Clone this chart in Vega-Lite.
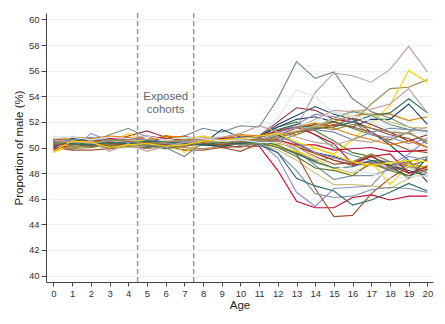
{
"$schema":"https://vega.github.io/schema/vega-lite/v6.json",
"width":387,"height":269,
"autosize":{"type":"none"},
"padding":{"left":46,"top":13,"right":12,"bottom":42},
"config":{"view":{"stroke":null},"font":"Liberation Sans",
 "axis":{"labelOverlap":false,"labelFlush":false,"labelFontSize":9.5,"labelColor":"#333","titleFontSize":11.5,"titleFontWeight":"normal","titleColor":"#222","tickColor":"#444","domainColor":"#444","labelPadding":2},
 "axisX":{"grid":false,"tickSize":4,"titlePadding":2},
 "axisY":{"grid":true,"gridColor":"#eaf2f3","gridWidth":1,"tickSize":5,"titlePadding":4}},
"datasets":{"d":[
{"s":"s01","a":0,"v":49.7},{"s":"s01","a":1,"v":50.6},{"s":"s01","a":2,"v":50.4},{"s":"s01","a":3,"v":50.2},{"s":"s01","a":4,"v":50.1},{"s":"s01","a":5,"v":50.0},{"s":"s01","a":6,"v":50.3},{"s":"s01","a":7,"v":50.1},{"s":"s01","a":8,"v":50.4},{"s":"s01","a":9,"v":50.5},{"s":"s01","a":10,"v":50.4},{"s":"s01","a":11,"v":50.8},{"s":"s01","a":12,"v":51.8},{"s":"s01","a":13,"v":52.5},{"s":"s01","a":14,"v":53.2},{"s":"s01","a":15,"v":52.6},{"s":"s01","a":16,"v":52.2},{"s":"s01","a":17,"v":51.2},{"s":"s01","a":18,"v":50.2},{"s":"s01","a":19,"v":49.0},{"s":"s01","a":20,"v":47.3},
{"s":"s02","a":0,"v":50.4},{"s":"s02","a":1,"v":50.3},{"s":"s02","a":2,"v":50.5},{"s":"s02","a":3,"v":50.6},{"s":"s02","a":4,"v":50.9},{"s":"s02","a":5,"v":51.3},{"s":"s02","a":6,"v":50.8},{"s":"s02","a":7,"v":50.6},{"s":"s02","a":8,"v":50.3},{"s":"s02","a":9,"v":50.5},{"s":"s02","a":10,"v":50.6},{"s":"s02","a":11,"v":50.9},{"s":"s02","a":12,"v":52.0},{"s":"s02","a":13,"v":53.1},{"s":"s02","a":14,"v":52.9},{"s":"s02","a":15,"v":52.2},{"s":"s02","a":16,"v":52.0},{"s":"s02","a":17,"v":51.5},{"s":"s02","a":18,"v":51.0},{"s":"s02","a":19,"v":50.7},{"s":"s02","a":20,"v":50.0},
{"s":"s03","a":0,"v":50.5},{"s":"s03","a":1,"v":50.2},{"s":"s03","a":2,"v":50.0},{"s":"s03","a":3,"v":50.3},{"s":"s03","a":4,"v":50.6},{"s":"s03","a":5,"v":50.4},{"s":"s03","a":6,"v":50.9},{"s":"s03","a":7,"v":50.5},{"s":"s03","a":8,"v":50.2},{"s":"s03","a":9,"v":50.4},{"s":"s03","a":10,"v":50.3},{"s":"s03","a":11,"v":50.8},{"s":"s03","a":12,"v":51.6},{"s":"s03","a":13,"v":52.0},{"s":"s03","a":14,"v":51.3},{"s":"s03","a":15,"v":50.5},{"s":"s03","a":16,"v":49.6},{"s":"s03","a":17,"v":49.3},{"s":"s03","a":18,"v":48.6},{"s":"s03","a":19,"v":48.9},{"s":"s03","a":20,"v":49.3},
{"s":"s04","a":0,"v":50.2},{"s":"s04","a":1,"v":50.4},{"s":"s04","a":2,"v":50.7},{"s":"s04","a":3,"v":50.5},{"s":"s04","a":4,"v":50.6},{"s":"s04","a":5,"v":50.5},{"s":"s04","a":6,"v":50.9},{"s":"s04","a":7,"v":50.8},{"s":"s04","a":8,"v":50.7},{"s":"s04","a":9,"v":50.6},{"s":"s04","a":10,"v":50.9},{"s":"s04","a":11,"v":50.8},{"s":"s04","a":12,"v":51.2},{"s":"s04","a":13,"v":51.0},{"s":"s04","a":14,"v":51.5},{"s":"s04","a":15,"v":52.0},{"s":"s04","a":16,"v":52.5},{"s":"s04","a":17,"v":52.6},{"s":"s04","a":18,"v":52.6},{"s":"s04","a":19,"v":52.1},{"s":"s04","a":20,"v":52.4},
{"s":"s05","a":0,"v":50.6},{"s":"s05","a":1,"v":50.5},{"s":"s05","a":2,"v":50.4},{"s":"s05","a":3,"v":51.0},{"s":"s05","a":4,"v":51.5},{"s":"s05","a":5,"v":50.8},{"s":"s05","a":6,"v":50.6},{"s":"s05","a":7,"v":50.9},{"s":"s05","a":8,"v":51.5},{"s":"s05","a":9,"v":51.2},{"s":"s05","a":10,"v":51.7},{"s":"s05","a":11,"v":51.6},{"s":"s05","a":12,"v":53.8},{"s":"s05","a":13,"v":56.7},{"s":"s05","a":14,"v":55.4},{"s":"s05","a":15,"v":55.9},{"s":"s05","a":16,"v":53.8},{"s":"s05","a":17,"v":52.8},{"s":"s05","a":18,"v":52.3},{"s":"s05","a":19,"v":51.6},{"s":"s05","a":20,"v":51.2},
{"s":"s06","a":0,"v":49.8},{"s":"s06","a":1,"v":50.1},{"s":"s06","a":2,"v":50.3},{"s":"s06","a":3,"v":49.9},{"s":"s06","a":4,"v":50.5},{"s":"s06","a":5,"v":50.8},{"s":"s06","a":6,"v":50.4},{"s":"s06","a":7,"v":50.2},{"s":"s06","a":8,"v":50.3},{"s":"s06","a":9,"v":50.0},{"s":"s06","a":10,"v":50.1},{"s":"s06","a":11,"v":50.1},{"s":"s06","a":12,"v":48.2},{"s":"s06","a":13,"v":45.8},{"s":"s06","a":14,"v":45.3},{"s":"s06","a":15,"v":45.3},{"s":"s06","a":16,"v":46.1},{"s":"s06","a":17,"v":46.3},{"s":"s06","a":18,"v":45.9},{"s":"s06","a":19,"v":46.2},{"s":"s06","a":20,"v":46.2},
{"s":"s07","a":0,"v":50.3},{"s":"s07","a":1,"v":49.8},{"s":"s07","a":2,"v":51.1},{"s":"s07","a":3,"v":50.5},{"s":"s07","a":4,"v":50.2},{"s":"s07","a":5,"v":50.4},{"s":"s07","a":6,"v":49.9},{"s":"s07","a":7,"v":50.3},{"s":"s07","a":8,"v":50.2},{"s":"s07","a":9,"v":50.4},{"s":"s07","a":10,"v":50.5},{"s":"s07","a":11,"v":50.4},{"s":"s07","a":12,"v":49.2},{"s":"s07","a":13,"v":46.5},{"s":"s07","a":14,"v":45.4},{"s":"s07","a":15,"v":46.8},{"s":"s07","a":16,"v":46.9},{"s":"s07","a":17,"v":47.0},{"s":"s07","a":18,"v":48.6},{"s":"s07","a":19,"v":49.5},{"s":"s07","a":20,"v":50.6},
{"s":"s08","a":0,"v":50.1},{"s":"s08","a":1,"v":50.0},{"s":"s08","a":2,"v":50.2},{"s":"s08","a":3,"v":49.9},{"s":"s08","a":4,"v":50.1},{"s":"s08","a":5,"v":50.3},{"s":"s08","a":6,"v":50.0},{"s":"s08","a":7,"v":49.8},{"s":"s08","a":8,"v":50.2},{"s":"s08","a":9,"v":50.1},{"s":"s08","a":10,"v":50.4},{"s":"s08","a":11,"v":50.3},{"s":"s08","a":12,"v":49.8},{"s":"s08","a":13,"v":49.0},{"s":"s08","a":14,"v":48.0},{"s":"s08","a":15,"v":47.1},{"s":"s08","a":16,"v":47.1},{"s":"s08","a":17,"v":47.0},{"s":"s08","a":18,"v":46.8},{"s":"s08","a":19,"v":47.6},{"s":"s08","a":20,"v":48.0},
{"s":"s09","a":0,"v":50.0},{"s":"s09","a":1,"v":49.8},{"s":"s09","a":2,"v":49.8},{"s":"s09","a":3,"v":49.9},{"s":"s09","a":4,"v":50.1},{"s":"s09","a":5,"v":50.0},{"s":"s09","a":6,"v":50.2},{"s":"s09","a":7,"v":49.8},{"s":"s09","a":8,"v":49.8},{"s":"s09","a":9,"v":50.0},{"s":"s09","a":10,"v":49.7},{"s":"s09","a":11,"v":50.3},{"s":"s09","a":12,"v":50.1},{"s":"s09","a":13,"v":49.5},{"s":"s09","a":14,"v":46.8},{"s":"s09","a":15,"v":44.6},{"s":"s09","a":16,"v":44.7},{"s":"s09","a":17,"v":46.4},{"s":"s09","a":18,"v":47.6},{"s":"s09","a":19,"v":48.5},{"s":"s09","a":20,"v":48.3},
{"s":"s10","a":0,"v":50.7},{"s":"s10","a":1,"v":50.6},{"s":"s10","a":2,"v":50.3},{"s":"s10","a":3,"v":50.5},{"s":"s10","a":4,"v":50.4},{"s":"s10","a":5,"v":50.2},{"s":"s10","a":6,"v":50.5},{"s":"s10","a":7,"v":50.3},{"s":"s10","a":8,"v":50.6},{"s":"s10","a":9,"v":50.4},{"s":"s10","a":10,"v":50.2},{"s":"s10","a":11,"v":50.4},{"s":"s10","a":12,"v":49.6},{"s":"s10","a":13,"v":48.2},{"s":"s10","a":14,"v":46.4},{"s":"s10","a":15,"v":46.1},{"s":"s10","a":16,"v":46.2},{"s":"s10","a":17,"v":46.7},{"s":"s10","a":18,"v":46.9},{"s":"s10","a":19,"v":46.8},{"s":"s10","a":20,"v":46.5},
{"s":"s11","a":0,"v":50.2},{"s":"s11","a":1,"v":50.4},{"s":"s11","a":2,"v":50.1},{"s":"s11","a":3,"v":50.2},{"s":"s11","a":4,"v":50.6},{"s":"s11","a":5,"v":50.3},{"s":"s11","a":6,"v":50.5},{"s":"s11","a":7,"v":50.4},{"s":"s11","a":8,"v":50.2},{"s":"s11","a":9,"v":50.1},{"s":"s11","a":10,"v":50.3},{"s":"s11","a":11,"v":50.2},{"s":"s11","a":12,"v":49.6},{"s":"s11","a":13,"v":47.6},{"s":"s11","a":14,"v":47.0},{"s":"s11","a":15,"v":46.6},{"s":"s11","a":16,"v":45.5},{"s":"s11","a":17,"v":45.9},{"s":"s11","a":18,"v":46.5},{"s":"s11","a":19,"v":47.2},{"s":"s11","a":20,"v":46.6},
{"s":"s12","a":0,"v":50.3},{"s":"s12","a":1,"v":50.0},{"s":"s12","a":2,"v":50.1},{"s":"s12","a":3,"v":50.4},{"s":"s12","a":4,"v":50.2},{"s":"s12","a":5,"v":50.5},{"s":"s12","a":6,"v":50.3},{"s":"s12","a":7,"v":50.6},{"s":"s12","a":8,"v":50.4},{"s":"s12","a":9,"v":50.2},{"s":"s12","a":10,"v":50.5},{"s":"s12","a":11,"v":50.6},{"s":"s12","a":12,"v":50.9},{"s":"s12","a":13,"v":51.2},{"s":"s12","a":14,"v":51.5},{"s":"s12","a":15,"v":51.6},{"s":"s12","a":16,"v":52.0},{"s":"s12","a":17,"v":53.4},{"s":"s12","a":18,"v":54.6},{"s":"s12","a":19,"v":54.7},{"s":"s12","a":20,"v":55.3},
{"s":"s13","a":0,"v":50.4},{"s":"s13","a":1,"v":50.7},{"s":"s13","a":2,"v":50.6},{"s":"s13","a":3,"v":50.3},{"s":"s13","a":4,"v":50.4},{"s":"s13","a":5,"v":50.1},{"s":"s13","a":6,"v":50.6},{"s":"s13","a":7,"v":50.5},{"s":"s13","a":8,"v":50.8},{"s":"s13","a":9,"v":50.7},{"s":"s13","a":10,"v":50.9},{"s":"s13","a":11,"v":50.7},{"s":"s13","a":12,"v":51.0},{"s":"s13","a":13,"v":51.6},{"s":"s13","a":14,"v":54.3},{"s":"s13","a":15,"v":55.8},{"s":"s13","a":16,"v":55.6},{"s":"s13","a":17,"v":55.1},{"s":"s13","a":18,"v":56.1},{"s":"s13","a":19,"v":57.9},{"s":"s13","a":20,"v":55.9},
{"s":"s14","a":0,"v":49.6},{"s":"s14","a":1,"v":50.3},{"s":"s14","a":2,"v":50.5},{"s":"s14","a":3,"v":50.2},{"s":"s14","a":4,"v":51.1},{"s":"s14","a":5,"v":50.4},{"s":"s14","a":6,"v":50.9},{"s":"s14","a":7,"v":49.6},{"s":"s14","a":8,"v":50.6},{"s":"s14","a":9,"v":50.7},{"s":"s14","a":10,"v":50.8},{"s":"s14","a":11,"v":50.5},{"s":"s14","a":12,"v":50.3},{"s":"s14","a":13,"v":50.0},{"s":"s14","a":14,"v":49.9},{"s":"s14","a":15,"v":49.5},{"s":"s14","a":16,"v":50.6},{"s":"s14","a":17,"v":51.9},{"s":"s14","a":18,"v":53.3},{"s":"s14","a":19,"v":56.0},{"s":"s14","a":20,"v":55.1},
{"s":"s15","a":0,"v":50.8},{"s":"s15","a":1,"v":50.9},{"s":"s15","a":2,"v":50.7},{"s":"s15","a":3,"v":50.6},{"s":"s15","a":4,"v":50.8},{"s":"s15","a":5,"v":50.5},{"s":"s15","a":6,"v":50.7},{"s":"s15","a":7,"v":50.6},{"s":"s15","a":8,"v":50.9},{"s":"s15","a":9,"v":50.8},{"s":"s15","a":10,"v":50.9},{"s":"s15","a":11,"v":51.0},{"s":"s15","a":12,"v":52.3},{"s":"s15","a":13,"v":54.5},{"s":"s15","a":14,"v":54.0},{"s":"s15","a":15,"v":52.7},{"s":"s15","a":16,"v":52.4},{"s":"s15","a":17,"v":52.3},{"s":"s15","a":18,"v":51.6},{"s":"s15","a":19,"v":51.4},{"s":"s15","a":20,"v":51.2},
{"s":"s16","a":0,"v":50.1},{"s":"s16","a":1,"v":50.8},{"s":"s16","a":2,"v":50.5},{"s":"s16","a":3,"v":50.2},{"s":"s16","a":4,"v":50.3},{"s":"s16","a":5,"v":50.1},{"s":"s16","a":6,"v":50.2},{"s":"s16","a":7,"v":50.5},{"s":"s16","a":8,"v":50.3},{"s":"s16","a":9,"v":51.4},{"s":"s16","a":10,"v":50.8},{"s":"s16","a":11,"v":50.9},{"s":"s16","a":12,"v":51.6},{"s":"s16","a":13,"v":52.2},{"s":"s16","a":14,"v":52.4},{"s":"s16","a":15,"v":52.0},{"s":"s16","a":16,"v":51.6},{"s":"s16","a":17,"v":52.2},{"s":"s16","a":18,"v":52.2},{"s":"s16","a":19,"v":53.4},{"s":"s16","a":20,"v":51.8},
{"s":"s17","a":0,"v":50.6},{"s":"s17","a":1,"v":50.5},{"s":"s17","a":2,"v":50.3},{"s":"s17","a":3,"v":50.5},{"s":"s17","a":4,"v":50.7},{"s":"s17","a":5,"v":50.9},{"s":"s17","a":6,"v":50.5},{"s":"s17","a":7,"v":50.3},{"s":"s17","a":8,"v":50.6},{"s":"s17","a":9,"v":50.4},{"s":"s17","a":10,"v":50.5},{"s":"s17","a":11,"v":50.5},{"s":"s17","a":12,"v":51.0},{"s":"s17","a":13,"v":51.5},{"s":"s17","a":14,"v":51.8},{"s":"s17","a":15,"v":51.7},{"s":"s17","a":16,"v":52.3},{"s":"s17","a":17,"v":51.8},{"s":"s17","a":18,"v":51.2},{"s":"s17","a":19,"v":50.5},{"s":"s17","a":20,"v":51.0},
{"s":"s18","a":0,"v":50.5},{"s":"s18","a":1,"v":50.1},{"s":"s18","a":2,"v":50.2},{"s":"s18","a":3,"v":50.0},{"s":"s18","a":4,"v":50.3},{"s":"s18","a":5,"v":50.2},{"s":"s18","a":6,"v":49.9},{"s":"s18","a":7,"v":50.2},{"s":"s18","a":8,"v":50.3},{"s":"s18","a":9,"v":50.5},{"s":"s18","a":10,"v":50.4},{"s":"s18","a":11,"v":50.6},{"s":"s18","a":12,"v":50.8},{"s":"s18","a":13,"v":51.2},{"s":"s18","a":14,"v":51.8},{"s":"s18","a":15,"v":52.0},{"s":"s18","a":16,"v":51.5},{"s":"s18","a":17,"v":51.0},{"s":"s18","a":18,"v":50.6},{"s":"s18","a":19,"v":51.2},{"s":"s18","a":20,"v":50.3},
{"s":"s19","a":0,"v":50.3},{"s":"s19","a":1,"v":50.6},{"s":"s19","a":2,"v":50.4},{"s":"s19","a":3,"v":50.2},{"s":"s19","a":4,"v":50.5},{"s":"s19","a":5,"v":50.6},{"s":"s19","a":6,"v":50.3},{"s":"s19","a":7,"v":50.4},{"s":"s19","a":8,"v":50.2},{"s":"s19","a":9,"v":50.3},{"s":"s19","a":10,"v":50.5},{"s":"s19","a":11,"v":50.7},{"s":"s19","a":12,"v":50.6},{"s":"s19","a":13,"v":50.1},{"s":"s19","a":14,"v":49.5},{"s":"s19","a":15,"v":49.0},{"s":"s19","a":16,"v":48.7},{"s":"s19","a":17,"v":48.6},{"s":"s19","a":18,"v":48.4},{"s":"s19","a":19,"v":48.8},{"s":"s19","a":20,"v":48.4},
{"s":"s20","a":0,"v":50.4},{"s":"s20","a":1,"v":50.3},{"s":"s20","a":2,"v":50.6},{"s":"s20","a":3,"v":50.8},{"s":"s20","a":4,"v":50.3},{"s":"s20","a":5,"v":50.2},{"s":"s20","a":6,"v":50.0},{"s":"s20","a":7,"v":49.3},{"s":"s20","a":8,"v":50.4},{"s":"s20","a":9,"v":50.6},{"s":"s20","a":10,"v":50.5},{"s":"s20","a":11,"v":50.7},{"s":"s20","a":12,"v":51.2},{"s":"s20","a":13,"v":51.8},{"s":"s20","a":14,"v":51.0},{"s":"s20","a":15,"v":50.0},{"s":"s20","a":16,"v":49.4},{"s":"s20","a":17,"v":49.0},{"s":"s20","a":18,"v":48.9},{"s":"s20","a":19,"v":48.5},{"s":"s20","a":20,"v":49.0},
{"s":"s21","a":0,"v":49.9},{"s":"s21","a":1,"v":50.2},{"s":"s21","a":2,"v":50.5},{"s":"s21","a":3,"v":50.4},{"s":"s21","a":4,"v":50.8},{"s":"s21","a":5,"v":50.6},{"s":"s21","a":6,"v":50.5},{"s":"s21","a":7,"v":50.3},{"s":"s21","a":8,"v":50.4},{"s":"s21","a":9,"v":50.6},{"s":"s21","a":10,"v":50.7},{"s":"s21","a":11,"v":50.5},{"s":"s21","a":12,"v":50.6},{"s":"s21","a":13,"v":50.2},{"s":"s21","a":14,"v":50.2},{"s":"s21","a":15,"v":49.8},{"s":"s21","a":16,"v":49.9},{"s":"s21","a":17,"v":50.0},{"s":"s21","a":18,"v":49.7},{"s":"s21","a":19,"v":49.7},{"s":"s21","a":20,"v":49.8},
{"s":"s22","a":0,"v":50.2},{"s":"s22","a":1,"v":50.4},{"s":"s22","a":2,"v":50.3},{"s":"s22","a":3,"v":50.6},{"s":"s22","a":4,"v":50.5},{"s":"s22","a":5,"v":50.3},{"s":"s22","a":6,"v":50.6},{"s":"s22","a":7,"v":50.4},{"s":"s22","a":8,"v":50.5},{"s":"s22","a":9,"v":50.7},{"s":"s22","a":10,"v":50.6},{"s":"s22","a":11,"v":50.6},{"s":"s22","a":12,"v":51.3},{"s":"s22","a":13,"v":51.8},{"s":"s22","a":14,"v":52.6},{"s":"s22","a":15,"v":52.4},{"s":"s22","a":16,"v":52.0},{"s":"s22","a":17,"v":51.0},{"s":"s22","a":18,"v":50.8},{"s":"s22","a":19,"v":50.3},{"s":"s22","a":20,"v":50.7},
{"s":"s23","a":0,"v":50.3},{"s":"s23","a":1,"v":50.1},{"s":"s23","a":2,"v":50.4},{"s":"s23","a":3,"v":50.2},{"s":"s23","a":4,"v":50.0},{"s":"s23","a":5,"v":50.2},{"s":"s23","a":6,"v":50.4},{"s":"s23","a":7,"v":50.1},{"s":"s23","a":8,"v":50.3},{"s":"s23","a":9,"v":50.4},{"s":"s23","a":10,"v":50.2},{"s":"s23","a":11,"v":50.5},{"s":"s23","a":12,"v":50.1},{"s":"s23","a":13,"v":49.6},{"s":"s23","a":14,"v":48.8},{"s":"s23","a":15,"v":48.4},{"s":"s23","a":16,"v":48.0},{"s":"s23","a":17,"v":48.7},{"s":"s23","a":18,"v":48.2},{"s":"s23","a":19,"v":48.5},{"s":"s23","a":20,"v":47.7},
{"s":"s24","a":0,"v":50.5},{"s":"s24","a":1,"v":50.7},{"s":"s24","a":2,"v":50.6},{"s":"s24","a":3,"v":50.4},{"s":"s24","a":4,"v":50.6},{"s":"s24","a":5,"v":50.8},{"s":"s24","a":6,"v":50.7},{"s":"s24","a":7,"v":50.9},{"s":"s24","a":8,"v":50.5},{"s":"s24","a":9,"v":50.6},{"s":"s24","a":10,"v":50.7},{"s":"s24","a":11,"v":50.6},{"s":"s24","a":12,"v":51.0},{"s":"s24","a":13,"v":51.2},{"s":"s24","a":14,"v":51.4},{"s":"s24","a":15,"v":51.8},{"s":"s24","a":16,"v":51.6},{"s":"s24","a":17,"v":51.2},{"s":"s24","a":18,"v":50.4},{"s":"s24","a":19,"v":49.8},{"s":"s24","a":20,"v":49.6},
{"s":"s25","a":0,"v":50.3},{"s":"s25","a":1,"v":50.2},{"s":"s25","a":2,"v":50.4},{"s":"s25","a":3,"v":50.1},{"s":"s25","a":4,"v":50.3},{"s":"s25","a":5,"v":50.4},{"s":"s25","a":6,"v":50.1},{"s":"s25","a":7,"v":50.2},{"s":"s25","a":8,"v":50.5},{"s":"s25","a":9,"v":50.3},{"s":"s25","a":10,"v":50.4},{"s":"s25","a":11,"v":50.6},{"s":"s25","a":12,"v":50.5},{"s":"s25","a":13,"v":49.8},{"s":"s25","a":14,"v":48.6},{"s":"s25","a":15,"v":47.5},{"s":"s25","a":16,"v":47.8},{"s":"s25","a":17,"v":47.8},{"s":"s25","a":18,"v":48.3},{"s":"s25","a":19,"v":48.6},{"s":"s25","a":20,"v":48.0},
{"s":"s26","a":0,"v":50.6},{"s":"s26","a":1,"v":50.5},{"s":"s26","a":2,"v":50.6},{"s":"s26","a":3,"v":50.7},{"s":"s26","a":4,"v":50.4},{"s":"s26","a":5,"v":50.5},{"s":"s26","a":6,"v":50.8},{"s":"s26","a":7,"v":50.6},{"s":"s26","a":8,"v":50.4},{"s":"s26","a":9,"v":50.5},{"s":"s26","a":10,"v":50.6},{"s":"s26","a":11,"v":50.7},{"s":"s26","a":12,"v":51.4},{"s":"s26","a":13,"v":51.8},{"s":"s26","a":14,"v":51.5},{"s":"s26","a":15,"v":51.6},{"s":"s26","a":16,"v":52.0},{"s":"s26","a":17,"v":52.5},{"s":"s26","a":18,"v":52.7},{"s":"s26","a":19,"v":53.8},{"s":"s26","a":20,"v":52.7},
{"s":"s27","a":0,"v":50.1},{"s":"s27","a":1,"v":49.9},{"s":"s27","a":2,"v":50.0},{"s":"s27","a":3,"v":50.2},{"s":"s27","a":4,"v":50.1},{"s":"s27","a":5,"v":49.9},{"s":"s27","a":6,"v":50.1},{"s":"s27","a":7,"v":50.0},{"s":"s27","a":8,"v":49.9},{"s":"s27","a":9,"v":50.1},{"s":"s27","a":10,"v":50.0},{"s":"s27","a":11,"v":50.4},{"s":"s27","a":12,"v":50.0},{"s":"s27","a":13,"v":49.6},{"s":"s27","a":14,"v":49.0},{"s":"s27","a":15,"v":49.2},{"s":"s27","a":16,"v":48.9},{"s":"s27","a":17,"v":49.5},{"s":"s27","a":18,"v":48.9},{"s":"s27","a":19,"v":48.6},{"s":"s27","a":20,"v":49.0},
{"s":"s28","a":0,"v":50.5},{"s":"s28","a":1,"v":50.4},{"s":"s28","a":2,"v":50.6},{"s":"s28","a":3,"v":50.5},{"s":"s28","a":4,"v":50.7},{"s":"s28","a":5,"v":50.4},{"s":"s28","a":6,"v":50.6},{"s":"s28","a":7,"v":50.7},{"s":"s28","a":8,"v":50.5},{"s":"s28","a":9,"v":50.8},{"s":"s28","a":10,"v":50.6},{"s":"s28","a":11,"v":50.6},{"s":"s28","a":12,"v":51.2},{"s":"s28","a":13,"v":51.5},{"s":"s28","a":14,"v":52.2},{"s":"s28","a":15,"v":52.9},{"s":"s28","a":16,"v":52.8},{"s":"s28","a":17,"v":53.0},{"s":"s28","a":18,"v":53.4},{"s":"s28","a":19,"v":54.6},{"s":"s28","a":20,"v":52.7},
{"s":"s29","a":0,"v":50.5},{"s":"s29","a":1,"v":50.8},{"s":"s29","a":2,"v":50.6},{"s":"s29","a":3,"v":50.5},{"s":"s29","a":4,"v":50.4},{"s":"s29","a":5,"v":50.6},{"s":"s29","a":6,"v":50.8},{"s":"s29","a":7,"v":50.7},{"s":"s29","a":8,"v":50.9},{"s":"s29","a":9,"v":50.6},{"s":"s29","a":10,"v":50.8},{"s":"s29","a":11,"v":50.4},{"s":"s29","a":12,"v":50.1},{"s":"s29","a":13,"v":49.7},{"s":"s29","a":14,"v":49.2},{"s":"s29","a":15,"v":48.3},{"s":"s29","a":16,"v":47.8},{"s":"s29","a":17,"v":48.9},{"s":"s29","a":18,"v":47.1},{"s":"s29","a":19,"v":48.6},{"s":"s29","a":20,"v":48.4},
{"s":"s30","a":0,"v":50.9},{"s":"s30","a":1,"v":50.6},{"s":"s30","a":2,"v":50.8},{"s":"s30","a":3,"v":50.7},{"s":"s30","a":4,"v":50.6},{"s":"s30","a":5,"v":50.8},{"s":"s30","a":6,"v":50.5},{"s":"s30","a":7,"v":50.7},{"s":"s30","a":8,"v":50.6},{"s":"s30","a":9,"v":50.9},{"s":"s30","a":10,"v":50.7},{"s":"s30","a":11,"v":50.7},{"s":"s30","a":12,"v":51.0},{"s":"s30","a":13,"v":51.7},{"s":"s30","a":14,"v":52.0},{"s":"s30","a":15,"v":52.8},{"s":"s30","a":16,"v":52.5},{"s":"s30","a":17,"v":52.0},{"s":"s30","a":18,"v":51.4},{"s":"s30","a":19,"v":51.0},{"s":"s30","a":20,"v":51.3},
{"s":"s31","a":0,"v":50.0},{"s":"s31","a":1,"v":50.7},{"s":"s31","a":2,"v":50.6},{"s":"s31","a":3,"v":50.3},{"s":"s31","a":4,"v":50.4},{"s":"s31","a":5,"v":50.2},{"s":"s31","a":6,"v":50.1},{"s":"s31","a":7,"v":50.3},{"s":"s31","a":8,"v":50.2},{"s":"s31","a":9,"v":50.1},{"s":"s31","a":10,"v":50.3},{"s":"s31","a":11,"v":50.6},{"s":"s31","a":12,"v":51.0},{"s":"s31","a":13,"v":50.3},{"s":"s31","a":14,"v":49.6},{"s":"s31","a":15,"v":49.3},{"s":"s31","a":16,"v":48.8},{"s":"s31","a":17,"v":49.3},{"s":"s31","a":18,"v":48.6},{"s":"s31","a":19,"v":48.2},{"s":"s31","a":20,"v":47.8},
{"s":"s32","a":0,"v":50.7},{"s":"s32","a":1,"v":50.4},{"s":"s32","a":2,"v":50.6},{"s":"s32","a":3,"v":50.4},{"s":"s32","a":4,"v":50.5},{"s":"s32","a":5,"v":50.3},{"s":"s32","a":6,"v":50.9},{"s":"s32","a":7,"v":50.4},{"s":"s32","a":8,"v":50.6},{"s":"s32","a":9,"v":50.3},{"s":"s32","a":10,"v":50.5},{"s":"s32","a":11,"v":50.6},{"s":"s32","a":12,"v":50.4},{"s":"s32","a":13,"v":50.0},{"s":"s32","a":14,"v":49.6},{"s":"s32","a":15,"v":49.0},{"s":"s32","a":16,"v":48.6},{"s":"s32","a":17,"v":48.9},{"s":"s32","a":18,"v":48.6},{"s":"s32","a":19,"v":48.0},{"s":"s32","a":20,"v":48.3},
{"s":"s33","a":0,"v":50.3},{"s":"s33","a":1,"v":50.2},{"s":"s33","a":2,"v":50.4},{"s":"s33","a":3,"v":50.1},{"s":"s33","a":4,"v":50.2},{"s":"s33","a":5,"v":50.3},{"s":"s33","a":6,"v":50.5},{"s":"s33","a":7,"v":50.2},{"s":"s33","a":8,"v":50.4},{"s":"s33","a":9,"v":50.2},{"s":"s33","a":10,"v":50.3},{"s":"s33","a":11,"v":50.4},{"s":"s33","a":12,"v":50.0},{"s":"s33","a":13,"v":49.3},{"s":"s33","a":14,"v":48.4},{"s":"s33","a":15,"v":48.2},{"s":"s33","a":16,"v":47.8},{"s":"s33","a":17,"v":48.8},{"s":"s33","a":18,"v":48.2},{"s":"s33","a":19,"v":47.8},{"s":"s33","a":20,"v":48.2},
{"s":"s34","a":0,"v":50.6},{"s":"s34","a":1,"v":50.8},{"s":"s34","a":2,"v":50.7},{"s":"s34","a":3,"v":50.9},{"s":"s34","a":4,"v":50.8},{"s":"s34","a":5,"v":50.6},{"s":"s34","a":6,"v":50.9},{"s":"s34","a":7,"v":50.8},{"s":"s34","a":8,"v":50.6},{"s":"s34","a":9,"v":50.7},{"s":"s34","a":10,"v":51.0},{"s":"s34","a":11,"v":50.9},{"s":"s34","a":12,"v":51.3},{"s":"s34","a":13,"v":51.6},{"s":"s34","a":14,"v":51.9},{"s":"s34","a":15,"v":51.5},{"s":"s34","a":16,"v":51.0},{"s":"s34","a":17,"v":50.6},{"s":"s34","a":18,"v":50.2},{"s":"s34","a":19,"v":50.5},{"s":"s34","a":20,"v":50.0},
{"s":"s35","a":0,"v":50.2},{"s":"s35","a":1,"v":50.3},{"s":"s35","a":2,"v":50.1},{"s":"s35","a":3,"v":50.4},{"s":"s35","a":4,"v":50.3},{"s":"s35","a":5,"v":50.1},{"s":"s35","a":6,"v":50.3},{"s":"s35","a":7,"v":50.5},{"s":"s35","a":8,"v":50.3},{"s":"s35","a":9,"v":50.4},{"s":"s35","a":10,"v":50.2},{"s":"s35","a":11,"v":50.3},{"s":"s35","a":12,"v":50.5},{"s":"s35","a":13,"v":51.0},{"s":"s35","a":14,"v":51.6},{"s":"s35","a":15,"v":52.3},{"s":"s35","a":16,"v":52.8},{"s":"s35","a":17,"v":52.5},{"s":"s35","a":18,"v":51.8},{"s":"s35","a":19,"v":51.4},{"s":"s35","a":20,"v":51.3},
{"s":"s36","a":0,"v":50.6},{"s":"s36","a":1,"v":50.5},{"s":"s36","a":2,"v":50.4},{"s":"s36","a":3,"v":50.7},{"s":"s36","a":4,"v":50.6},{"s":"s36","a":5,"v":50.9},{"s":"s36","a":6,"v":50.7},{"s":"s36","a":7,"v":50.6},{"s":"s36","a":8,"v":50.5},{"s":"s36","a":9,"v":50.7},{"s":"s36","a":10,"v":50.8},{"s":"s36","a":11,"v":50.8},{"s":"s36","a":12,"v":51.3},{"s":"s36","a":13,"v":51.6},{"s":"s36","a":14,"v":51.0},{"s":"s36","a":15,"v":50.3},{"s":"s36","a":16,"v":48.7},{"s":"s36","a":17,"v":49.3},{"s":"s36","a":18,"v":49.5},{"s":"s36","a":19,"v":48.0},{"s":"s36","a":20,"v":48.5},
{"s":"s37","a":0,"v":50.4},{"s":"s37","a":1,"v":50.5},{"s":"s37","a":2,"v":50.3},{"s":"s37","a":3,"v":50.6},{"s":"s37","a":4,"v":50.4},{"s":"s37","a":5,"v":50.5},{"s":"s37","a":6,"v":50.3},{"s":"s37","a":7,"v":50.2},{"s":"s37","a":8,"v":50.5},{"s":"s37","a":9,"v":50.4},{"s":"s37","a":10,"v":50.6},{"s":"s37","a":11,"v":50.5},{"s":"s37","a":12,"v":50.8},{"s":"s37","a":13,"v":50.4},{"s":"s37","a":14,"v":49.6},{"s":"s37","a":15,"v":49.2},{"s":"s37","a":16,"v":48.8},{"s":"s37","a":17,"v":48.9},{"s":"s37","a":18,"v":48.3},{"s":"s37","a":19,"v":49.3},{"s":"s37","a":20,"v":49.0},
{"s":"s38","a":0,"v":50.4},{"s":"s38","a":1,"v":50.3},{"s":"s38","a":2,"v":50.5},{"s":"s38","a":3,"v":50.4},{"s":"s38","a":4,"v":50.6},{"s":"s38","a":5,"v":50.4},{"s":"s38","a":6,"v":50.5},{"s":"s38","a":7,"v":50.6},{"s":"s38","a":8,"v":50.3},{"s":"s38","a":9,"v":50.5},{"s":"s38","a":10,"v":50.4},{"s":"s38","a":11,"v":50.6},{"s":"s38","a":12,"v":51.0},{"s":"s38","a":13,"v":51.3},{"s":"s38","a":14,"v":51.7},{"s":"s38","a":15,"v":52.2},{"s":"s38","a":16,"v":52.9},{"s":"s38","a":17,"v":52.6},{"s":"s38","a":18,"v":52.0},{"s":"s38","a":19,"v":51.6},{"s":"s38","a":20,"v":51.5},
{"s":"s39","a":0,"v":50.2},{"s":"s39","a":1,"v":50.3},{"s":"s39","a":2,"v":50.1},{"s":"s39","a":3,"v":50.3},{"s":"s39","a":4,"v":50.2},{"s":"s39","a":5,"v":50.4},{"s":"s39","a":6,"v":50.2},{"s":"s39","a":7,"v":50.1},{"s":"s39","a":8,"v":50.3},{"s":"s39","a":9,"v":50.2},{"s":"s39","a":10,"v":50.4},{"s":"s39","a":11,"v":50.7},{"s":"s39","a":12,"v":50.4},{"s":"s39","a":13,"v":50.0},{"s":"s39","a":14,"v":49.3},{"s":"s39","a":15,"v":48.7},{"s":"s39","a":16,"v":48.8},{"s":"s39","a":17,"v":49.4},{"s":"s39","a":18,"v":48.4},{"s":"s39","a":19,"v":47.8},{"s":"s39","a":20,"v":48.6},
{"s":"s40","a":0,"v":50.5},{"s":"s40","a":1,"v":50.6},{"s":"s40","a":2,"v":50.8},{"s":"s40","a":3,"v":50.5},{"s":"s40","a":4,"v":50.7},{"s":"s40","a":5,"v":50.6},{"s":"s40","a":6,"v":50.4},{"s":"s40","a":7,"v":50.5},{"s":"s40","a":8,"v":50.7},{"s":"s40","a":9,"v":50.6},{"s":"s40","a":10,"v":50.8},{"s":"s40","a":11,"v":50.8},{"s":"s40","a":12,"v":51.2},{"s":"s40","a":13,"v":51.6},{"s":"s40","a":14,"v":51.4},{"s":"s40","a":15,"v":51.2},{"s":"s40","a":16,"v":50.6},{"s":"s40","a":17,"v":51.2},{"s":"s40","a":18,"v":51.5},{"s":"s40","a":19,"v":51.4},{"s":"s40","a":20,"v":51.3},
{"s":"s41","a":0,"v":50.4},{"s":"s41","a":1,"v":50.3},{"s":"s41","a":2,"v":50.2},{"s":"s41","a":3,"v":50.4},{"s":"s41","a":4,"v":50.3},{"s":"s41","a":5,"v":50.5},{"s":"s41","a":6,"v":50.4},{"s":"s41","a":7,"v":50.3},{"s":"s41","a":8,"v":50.2},{"s":"s41","a":9,"v":50.4},{"s":"s41","a":10,"v":50.3},{"s":"s41","a":11,"v":50.5},{"s":"s41","a":12,"v":50.2},{"s":"s41","a":13,"v":49.5},{"s":"s41","a":14,"v":48.9},{"s":"s41","a":15,"v":48.4},{"s":"s41","a":16,"v":48.5},{"s":"s41","a":17,"v":49.0},{"s":"s41","a":18,"v":48.6},{"s":"s41","a":19,"v":47.6},{"s":"s41","a":20,"v":49.2},
{"s":"s42","a":0,"v":50.3},{"s":"s42","a":1,"v":50.5},{"s":"s42","a":2,"v":50.4},{"s":"s42","a":3,"v":50.6},{"s":"s42","a":4,"v":50.5},{"s":"s42","a":5,"v":50.3},{"s":"s42","a":6,"v":50.4},{"s":"s42","a":7,"v":50.6},{"s":"s42","a":8,"v":50.5},{"s":"s42","a":9,"v":50.3},{"s":"s42","a":10,"v":50.6},{"s":"s42","a":11,"v":50.5},{"s":"s42","a":12,"v":50.7},{"s":"s42","a":13,"v":51.2},{"s":"s42","a":14,"v":51.6},{"s":"s42","a":15,"v":51.4},{"s":"s42","a":16,"v":51.8},{"s":"s42","a":17,"v":51.5},{"s":"s42","a":18,"v":51.2},{"s":"s42","a":19,"v":51.1},{"s":"s42","a":20,"v":50.5},
{"s":"s43","a":0,"v":50.6},{"s":"s43","a":1,"v":50.4},{"s":"s43","a":2,"v":50.5},{"s":"s43","a":3,"v":49.7},{"s":"s43","a":4,"v":50.3},{"s":"s43","a":5,"v":49.7},{"s":"s43","a":6,"v":50.1},{"s":"s43","a":7,"v":50.4},{"s":"s43","a":8,"v":50.6},{"s":"s43","a":9,"v":50.8},{"s":"s43","a":10,"v":51.1},{"s":"s43","a":11,"v":51.7},{"s":"s43","a":12,"v":51.2},{"s":"s43","a":13,"v":50.8},{"s":"s43","a":14,"v":50.4},{"s":"s43","a":15,"v":50.2},{"s":"s43","a":16,"v":50.6},{"s":"s43","a":17,"v":50.4},{"s":"s43","a":18,"v":50.8},{"s":"s43","a":19,"v":51.2},{"s":"s43","a":20,"v":51.6},
{"s":"s44","a":0,"v":49.7},{"s":"s44","a":1,"v":50.5},{"s":"s44","a":2,"v":50.4},{"s":"s44","a":3,"v":50.0},{"s":"s44","a":4,"v":50.2},{"s":"s44","a":5,"v":50.3},{"s":"s44","a":6,"v":50.1},{"s":"s44","a":7,"v":50.2},{"s":"s44","a":8,"v":50.5},{"s":"s44","a":9,"v":50.6},{"s":"s44","a":10,"v":50.7},{"s":"s44","a":11,"v":50.9},{"s":"s44","a":12,"v":51.1},{"s":"s44","a":13,"v":50.4},{"s":"s44","a":14,"v":50.0},{"s":"s44","a":15,"v":49.4},{"s":"s44","a":16,"v":48.9},{"s":"s44","a":17,"v":48.6},{"s":"s44","a":18,"v":48.8},{"s":"s44","a":19,"v":49.0},{"s":"s44","a":20,"v":48.9},
{"s":"s45","a":0,"v":50.7},{"s":"s45","a":1,"v":50.8},{"s":"s45","a":2,"v":50.6},{"s":"s45","a":3,"v":50.8},{"s":"s45","a":4,"v":50.7},{"s":"s45","a":5,"v":50.9},{"s":"s45","a":6,"v":50.6},{"s":"s45","a":7,"v":50.8},{"s":"s45","a":8,"v":50.7},{"s":"s45","a":9,"v":50.5},{"s":"s45","a":10,"v":50.6},{"s":"s45","a":11,"v":50.4},{"s":"s45","a":12,"v":50.4},{"s":"s45","a":13,"v":50.0},{"s":"s45","a":14,"v":49.2},{"s":"s45","a":15,"v":48.6},{"s":"s45","a":16,"v":48.2},{"s":"s45","a":17,"v":48.0},{"s":"s45","a":18,"v":47.6},{"s":"s45","a":19,"v":47.7},{"s":"s45","a":20,"v":47.8}
]},
"layer":[
{"data":{"name":"d"},
 "mark":{"type":"line","strokeWidth":1.15,"clip":true},
 "encoding":{
  "x":{"field":"a","type":"quantitative","scale":{"domain":[-0.4,20.3],"nice":false,"zero":false},
   "axis":{"values":[0,1,2,3,4,5,6,7,8,9,10,11,12,13,14,15,16,17,18,19,20],"title":"Age"}},
  "y":{"field":"v","type":"quantitative","scale":{"domain":[39.5,60.5],"nice":false,"zero":false},
   "axis":{"values":[40,42,44,46,48,50,52,54,56,58,60],"title":"Proportion of male (%)"}},
  "color":{"field":"s","type":"nominal","legend":null,
   "scale":{"range":["#1a476f","#90353b","#55752f","#e37e00","#6e8e84","#c10534","#938dd2","#cac27e","#a0522d","#7b92a8","#2d6d66","#9c8847","#bfa19c","#ffd200","#d9e6eb","#1a476f","#90353b","#55752f","#e37e00","#6e8e84","#c10534","#938dd2","#cac27e","#a0522d","#7b92a8","#2d6d66","#9c8847","#bfa19c","#ffd200","#d9e6eb","#1a476f","#90353b","#55752f","#e37e00","#6e8e84","#c10534","#938dd2","#cac27e","#a0522d","#7b92a8","#2d6d66","#9c8847","#bfa19c","#ffd200","#d9e6eb"]}}
 }},
{"data":{"values":[{"a":4.5},{"a":7.5}]},
 "mark":{"type":"rule","strokeDash":[5,3],"color":"#9a9a9a","strokeWidth":1.5},
 "encoding":{"x":{"field":"a","type":"quantitative","axis":{"values":[0,1,2,3,4,5,6,7,8,9,10,11,12,13,14,15,16,17,18,19,20],"title":"Age"}}}},
{"data":{"values":[{"a":6,"v":53.95,"t":"Exposed"},{"a":6,"v":52.95,"t":"cohorts"}]},
 "mark":{"type":"text","fontSize":11.5,"color":"#666","align":"center","baseline":"middle"},
 "encoding":{"x":{"field":"a","type":"quantitative","axis":{"values":[0,1,2,3,4,5,6,7,8,9,10,11,12,13,14,15,16,17,18,19,20],"title":"Age"}},"y":{"field":"v","type":"quantitative","axis":{"values":[40,42,44,46,48,50,52,54,56,58,60],"title":"Proportion of male (%)"}},"text":{"field":"t"}}}
]
}
